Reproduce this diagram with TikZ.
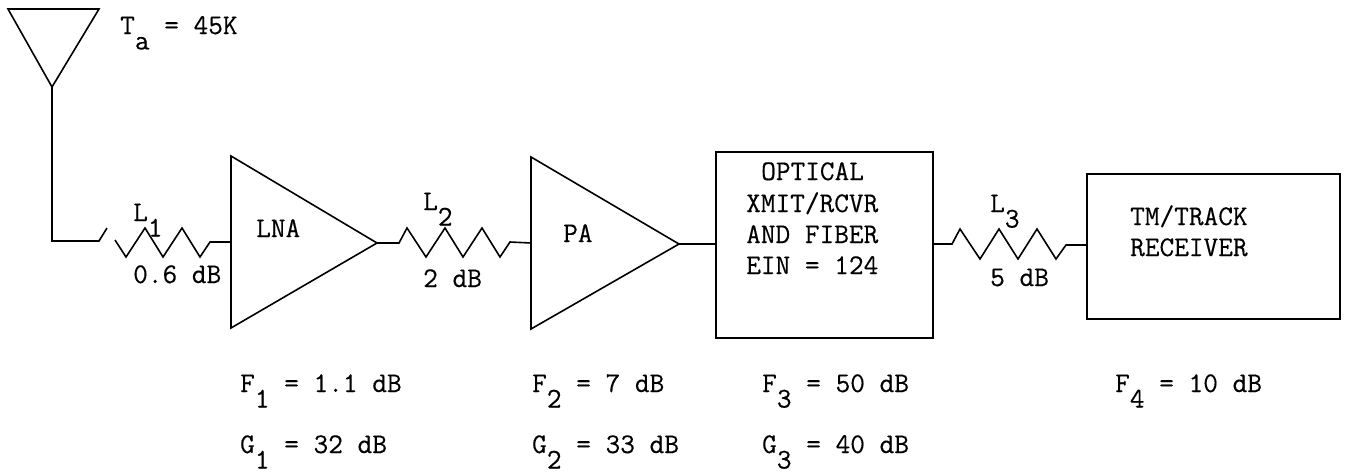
\documentclass[tikz,border=0pt]{standalone}
\usepackage{fontspec}
\newfontfamily\typer[FakeBold=0.35]{Latin Modern Mono}
\newcommand{\lowsub}[1]{\raisebox{-15.5pt}{#1}}
\tikzset{
  wire/.style={line width=1.6pt,line join=miter,black},
  blockbox/.style={draw,line width=1.6pt,inner sep=0pt,anchor=north west},
  lbl/.style={anchor=base west,inner sep=0pt,font=\fontsize{28.5pt}{31pt}\selectfont\typer,black},
}
\begin{document}
\begin{tikzpicture}[x=1pt,y=-1pt]
\useasboundingbox (0,0) rectangle (1349,474);
% antenna
\coordinate (antL) at (8,9);
\coordinate (antR) at (99,9);
\coordinate (antT) at (52,87);
\draw[wire] (antL) -- (antR) -- (antT) -- cycle;
% LNA
\coordinate (lnaA) at (231,156);
\coordinate (lnaB) at (231,328);
\coordinate (lnaO) at (377,243);
\coordinate (lnaI) at (231,242);
\draw[wire] (lnaA) -- (lnaB) -- (lnaO) -- cycle;
% PA
\coordinate (paA) at (531,157);
\coordinate (paB) at (531,329);
\coordinate (paO) at (679,244);
\coordinate (paI) at (531,243);
\draw[wire] (paA) -- (paB) -- (paO) -- cycle;
% blocks
\node[blockbox,minimum width=217pt,minimum height=186pt] (opt) at (715,151) {};
\node[blockbox,minimum width=253pt,minimum height=145pt] (rcv) at (1086,173) {};
% L1
\coordinate (corner) at (52,241);
\draw[wire] (antT) -- (corner) -- ++(47,0) coordinate (l1a) -- ++(8,-13);
\draw[wire] (l1a) ++(16,-1) -- ++(11,17) -- ++(19,-29) -- ++(18,29) -- ++(19,-29) -- ++(18,29) -- ++(10,-15) -- (lnaI);
% L2
\draw[wire] (lnaO) -- ++(22,0) -- ++(8,-15) -- ++(19,29) -- ++(19,-29) -- ++(18,29) -- ++(19,-29) -- ++(18,29) -- ++(10,-15) -- (paI);
% PA to optical
\coordinate (optI) at (715,244);
\draw[wire] (paO) -- (optI);
% L3
\coordinate (optO) at (932,244);
\coordinate (rcvI) at (1086,245);
\draw[wire] (optO) -- ++(20,0) -- ++(8,-15) -- ++(20,30) -- ++(19,-30) -- ++(19,30) -- ++(19,-30) -- ++(19,30) -- ++(10,-14) -- (rcvI);
% text
\node[lbl] (ta) at (120,34) {T\lowsub{a} = 45K};
\node[lbl] (l1) at (133,221) {L\lowsub{1}};
\node[lbl] (l1v) at (133,283) {0.6 dB};
\node[lbl] (lna) at (256,237) {LNA};
\node[lbl] (l2) at (423,210) {L\lowsub{2}};
\node[lbl] (l2v) at (423,287) {2 dB};
\node[lbl] (pa) at (563,242) {PA};
\node[lbl] (o1) at (761,180) {OPTICAL};
\node[lbl] (o2) at (746,212) {XMIT/RCVR};
\node[lbl] (o3) at (746,243) {AND FIBER};
\node[lbl] (o4) at (746,274) {EIN = 124};
\node[lbl] (l3) at (990,212) {L\lowsub{3}};
\node[lbl] (l3v) at (990,286) {5 dB};
\node[lbl] (r1) at (1130,225) {TM/TRACK};
\node[lbl] (r2) at (1130,256) {RECEIVER};
\node[lbl] (f1) at (240,392) {F\lowsub{1} = 1.1 dB};
\node[lbl] (g1) at (240,453) {G\lowsub{1} = 32 dB};
\node[lbl] (f2) at (532,392) {F\lowsub{2} = 7 dB};
\node[lbl] (g2) at (532,453) {G\lowsub{2} = 33 dB};
\node[lbl] (f3) at (762,392) {F\lowsub{3} = 50 dB};
\node[lbl] (g3) at (762,453) {G\lowsub{3} = 40 dB};
\node[lbl] (f4) at (1115,392) {F\lowsub{4} = 10 dB};
\end{tikzpicture}
\end{document}
